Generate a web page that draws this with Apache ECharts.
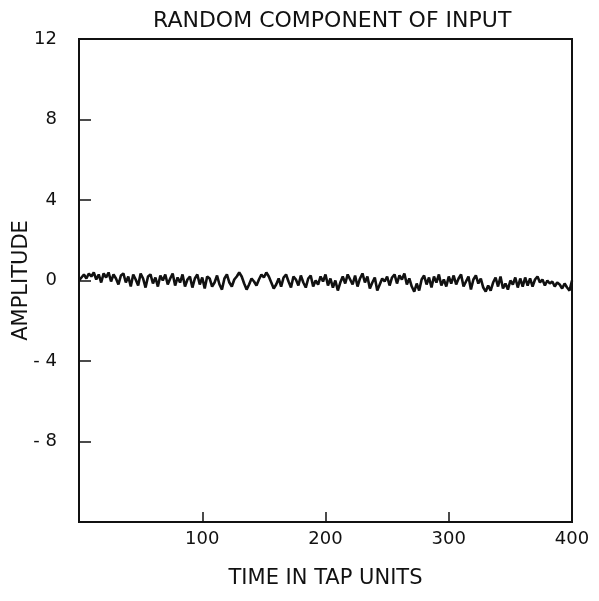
<!DOCTYPE html>
<html>
<head>
<meta charset="utf-8">
<script src="https://cdn.jsdelivr.net/npm/echarts@6/dist/echarts.min.js"></script>
<style>html,body{margin:0;padding:0;background:#fff}#c{width:599px;height:601px}</style>
</head>
<body>
<div id="c"></div>
<script>
const titleText = 'RANDOM COMPONENT OF INPUT';
const xName = 'TIME IN TAP UNITS';
const yName = 'AMPLITUDE';
const xTicks = [100, 200, 300, 400];
const yTicks = [12, 8, 4, 0, -4, -8];
const timeStep = 2;
const amplitude = [
 0.0, 0.15, 0.3, 0.1, 0.35, 0.2, 0.4, 0.05, 0.3, -0.1,
 0.35, 0.15, 0.4, -0.05, 0.3, 0.1, -0.2, 0.25, 0.35, -0.1,
 0.2, -0.3, 0.3, 0.05, -0.25, 0.35, 0.1, -0.35, 0.2, 0.3,
 -0.15, 0.15, -0.3, 0.25, 0.0, 0.3, -0.2, 0.1, 0.35, -0.25,
 0.15, -0.1, 0.3, -0.3, 0.05, 0.2, -0.35, 0.1, 0.3, -0.2,
 0.15, -0.4, 0.2, 0.1, -0.3, -0.1, 0.25, -0.2, -0.45, 0.1,
 0.3, -0.1, -0.3, 0.05, 0.2, 0.4, 0.2, -0.15, -0.45, -0.2,
 0.1, -0.05, -0.25, 0.05, 0.3, 0.15, 0.4, 0.2, -0.1, -0.4,
 -0.2, 0.1, -0.3, 0.15, 0.3, -0.05, -0.35, 0.2, 0.05, -0.25,
 0.25, -0.1, -0.35, 0.1, 0.25, -0.3, 0.0, -0.2, 0.2, -0.05,
 0.3, -0.25, 0.1, -0.35, 0.0, -0.5, -0.1, 0.2, -0.15, 0.3,
 0.05, -0.2, 0.25, -0.3, 0.1, 0.35, -0.1, 0.2, -0.4, -0.1,
 0.15, -0.5, -0.2, 0.1, -0.05, 0.2, -0.25, 0.15, 0.3, -0.15,
 0.25, 0.05, 0.35, -0.2, 0.1, -0.3, -0.55, -0.15, -0.5, 0.05,
 0.25, -0.2, 0.15, -0.35, 0.2, -0.1, 0.3, -0.25, 0.05, -0.3,
 0.2, -0.15, 0.25, -0.2, 0.1, 0.3, -0.3, -0.05, 0.2, -0.45,
 0.05, 0.25, -0.15, 0.1, -0.35, -0.55, -0.25, -0.5, -0.1, 0.15,
 -0.3, 0.2, -0.4, -0.15, -0.45, 0.0, -0.2, 0.15, -0.35, 0.1,
 -0.3, 0.15, -0.25, 0.1, -0.3, 0.05, 0.2, -0.1, 0.05, -0.25,
 0.0, -0.15, -0.05, -0.3, -0.1, -0.2, -0.4, -0.15, -0.35, -0.5,
 0.0
];
const seriesData = amplitude.map((v, i) => [i * timeStep, v]);

const font = 'DejaVu Sans';
const chart = echarts.init(document.getElementById('c'), null, {renderer: 'canvas'});
chart.setOption({
  backgroundColor: '#ffffff',
  animation: false,
  title: {
    text: titleText,
    left: 148, top: 5,
    textStyle: {fontFamily: font, fontSize: 22, fontWeight: 'normal', color: '#111'}
  },
  grid: {left: 79, right: 27, top: 39, bottom: 79, outerBoundsMode: 'none', containLabel: false,
    show: true, borderColor: '#111', borderWidth: 2, backgroundColor: 'transparent'},
  xAxis: {
    type: 'value', min: 0, max: 400, interval: 100,
    name: xName, nameLocation: 'middle', nameGap: 46,
    nameTextStyle: {fontFamily: font, fontSize: 21, color: '#111'},
    axisLine: {show: true, onZero: false, lineStyle: {color: '#111', width: 2}},
    axisTick: {show: true, inside: true, length: 10, lineStyle: {color: '#111', width: 1.5},
      customValues: [100, 200, 300]},
    axisLabel: {fontFamily: font, fontSize: 18, color: '#111', margin: 8,
      customValues: xTicks, formatter: v => String(v)},
    splitLine: {show: false}
  },
  yAxis: {
    type: 'value', min: -12, max: 12, interval: 4,
    name: yName, nameLocation: 'middle', nameGap: 47, nameRotate: 90, nameMoveOverlap: false,
    nameTextStyle: {fontFamily: font, fontSize: 21, color: '#111'},
    axisLine: {show: true, onZero: false, lineStyle: {color: '#111', width: 2}},
    axisTick: {show: true, inside: true, length: 12, lineStyle: {color: '#111', width: 1.5},
      customValues: [8, 4, 0, -4, -8]},
    axisLabel: {fontFamily: font, fontSize: 18, color: '#111', margin: 22,
      customValues: yTicks, formatter: v => String(v).replace('-', '- ')},
    splitLine: {show: false}
  },
  series: [{
    type: 'line', data: seriesData, showSymbol: false, symbol: 'none',
    lineStyle: {color: '#111', width: 2.6}, z: 3
  }]
});
</script>
</body>
</html>
